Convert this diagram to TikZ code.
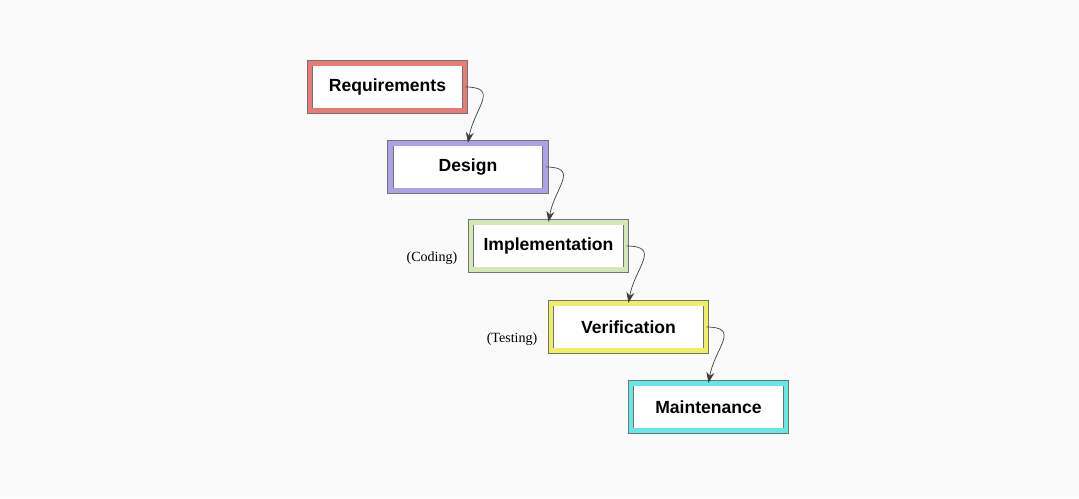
\documentclass[tikz,border=0pt]{standalone}
\usepackage{fontspec}
\setmainfont{Liberation Sans}
\newfontfamily\notefont{Liberation Serif}
\usetikzlibrary{arrows.meta}
\definecolor{reqcol}{RGB}{232,122,122}
\definecolor{descol}{RGB}{172,162,232}
\definecolor{impcol}{RGB}{212,232,182}
\definecolor{vercol}{RGB}{240,238,100}
\definecolor{maicol}{RGB}{100,232,230}

\begin{document}
\begin{tikzpicture}[x=0.02cm,y=-0.02cm]
        \fill[black!2] (0,0) rectangle (1079,498);
        \useasboundingbox (0,0) rectangle (1079,498);
        \begin{scope}[every node/.style={fill=white,draw=black!55,line width=0.5pt,double distance=2.6pt,
                minimum width=3.1cm,minimum height=0.95cm,font=\bfseries\normalsize}]
            \node[double=reqcol] (req) at (387.5,87) {Requirements};
            \node[double=descol] (des) at (468,167) {Design};
            \node[double=impcol] (imp) at (548.5,246) {Implementation};
            \node[double=vercol] (ver) at (628.5,327) {Verification};
            \node[double=maicol] (mai) at (708.5,407) {Maintenance};
        \end{scope}

        \node[font=\notefont\footnotesize,anchor=east] (cod) at (imp.south west) [xshift=-4pt,yshift=7pt] {(Coding)};
        \node[font=\notefont\footnotesize,anchor=east] (tes) at (ver.south west) [xshift=-4pt,yshift=7pt] {(Testing)};

        \begin{scope}[every edge/.style={draw,black!75,thin,-{Stealth[length=6pt]}}]
            \path (req.east) edge[out=0,in=80,looseness=1.6] (des.north);
            \path (des.east) edge[out=0,in=80,looseness=1.6] (imp.north);
            \path (imp.east) edge[out=0,in=80,looseness=1.6] (ver.north);
            \path (ver.east) edge[out=0,in=80,looseness=1.6] (mai.north);
        \end{scope}
    \end{tikzpicture}
\end{document}
